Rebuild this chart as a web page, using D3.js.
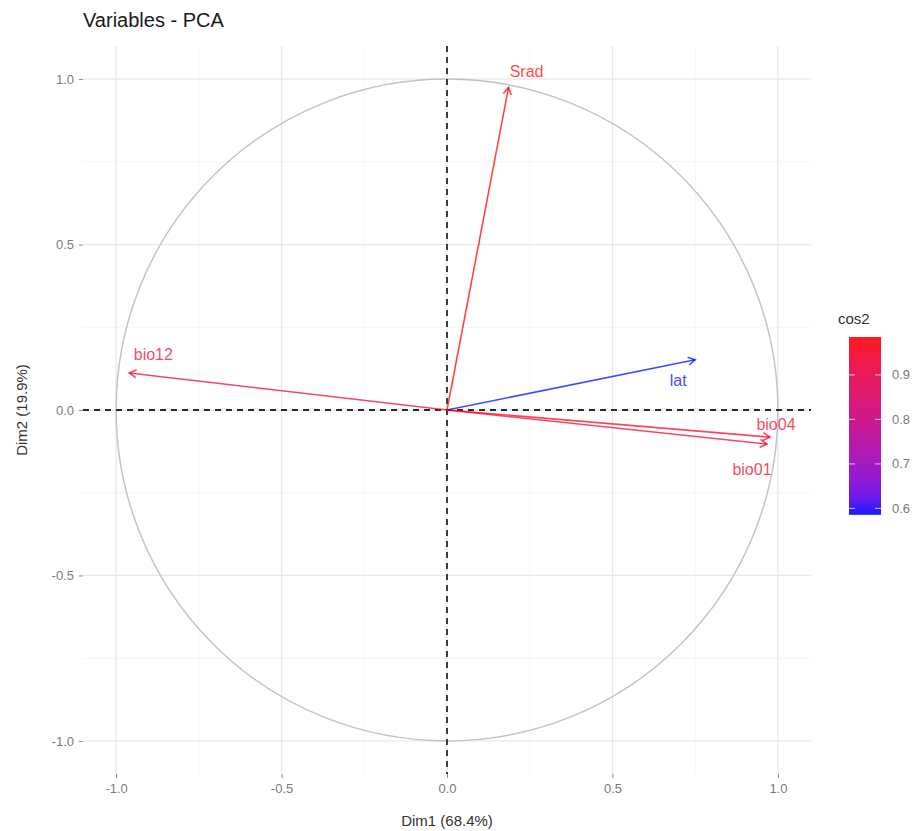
<!DOCTYPE html>
<html>
<head>
<meta charset="utf-8">
<script src="https://cdn.jsdelivr.net/npm/d3@7"></script>
<style>
  body { margin: 0; background: #fff; }
  svg { font-family: "Liberation Sans", Arial, sans-serif; }
</style>
</head>
<body>
<div id="chart"></div>
<script>
// variables and their coordinates on Dim1 / Dim2
var varNames = ["Srad", "lat", "bio12", "bio04", "bio01"];
var dim1 = [0.186, 0.750, -0.960, 0.976, 0.967];
var dim2 = [0.975, 0.152, 0.112, -0.082, -0.103];

var majorTicks = [-1.0, -0.5, 0.0, 0.5, 1.0];
var minorTicks = [-0.75, -0.25, 0.25, 0.75];
var legendTicks = [0.6, 0.7, 0.8, 0.9];

var width = 921, height = 831;
var panel = { left: 83, right: 811, top: 46, bottom: 774 };

var svg = d3.select("#chart").append("svg")
    .attr("width", width)
    .attr("height", height);

var x = d3.scaleLinear().domain([-1.1, 1.1]).range([panel.left, panel.right]);
var y = d3.scaleLinear().domain([-1.1, 1.1]).range([panel.bottom, panel.top]);

var data = varNames.map(function (n, i) {
    return { name: n, x: dim1[i], y: dim2[i], cos2: dim1[i] * dim1[i] + dim2[i] * dim2[i] };
});

var color = d3.scaleLinear()
    .domain(d3.extent(data, function (d) { return d.cos2; }))
    .range(["blue", "red"])
    .interpolate(d3.interpolateLab);

// grid
var grid = svg.append("g");
grid.selectAll(".vminor").data(minorTicks).enter().append("line")
    .attr("x1", function (d) { return x(d); }).attr("x2", function (d) { return x(d); })
    .attr("y1", panel.top).attr("y2", panel.bottom)
    .attr("stroke", "#f2f2f2").attr("stroke-width", 0.8);
grid.selectAll(".hminor").data(minorTicks).enter().append("line")
    .attr("y1", function (d) { return y(d); }).attr("y2", function (d) { return y(d); })
    .attr("x1", panel.left).attr("x2", panel.right)
    .attr("stroke", "#f2f2f2").attr("stroke-width", 0.8);
grid.selectAll(".vmajor").data(majorTicks).enter().append("line")
    .attr("x1", function (d) { return x(d); }).attr("x2", function (d) { return x(d); })
    .attr("y1", panel.top).attr("y2", panel.bottom)
    .attr("stroke", "#e8e8e8").attr("stroke-width", 1.3);
grid.selectAll(".hmajor").data(majorTicks).enter().append("line")
    .attr("y1", function (d) { return y(d); }).attr("y2", function (d) { return y(d); })
    .attr("x1", panel.left).attr("x2", panel.right)
    .attr("stroke", "#e8e8e8").attr("stroke-width", 1.3);

// axes
var fmt = function (d) { return d3.format(".1f")(d).replace("\u2212", "-"); };
var xAxis = d3.axisBottom(x).tickValues(majorTicks).tickFormat(fmt).tickSize(4).tickPadding(6);
var yAxis = d3.axisLeft(y).tickValues(majorTicks).tickFormat(fmt).tickSize(4).tickPadding(5);

var gx = svg.append("g").attr("transform", "translate(0," + panel.bottom + ")").call(xAxis);
var gy = svg.append("g").attr("transform", "translate(" + panel.left + ",0)").call(yAxis);
[gx, gy].forEach(function (g) {
    g.select(".domain").remove();
    g.selectAll(".tick line").attr("stroke", "#8a8a8a");
    g.selectAll(".tick text").attr("fill", "#7a7a7a").style("font-size", "13px")
        .style("font-family", "'Liberation Sans', Arial, sans-serif");
});

// correlation circle
svg.append("circle")
    .attr("cx", x(0)).attr("cy", y(0))
    .attr("r", x(1) - x(0))
    .attr("fill", "none")
    .attr("stroke", "#c4c4c4")
    .attr("stroke-width", 1.5);

// dashed reference lines
svg.append("line")
    .attr("x1", panel.left).attr("x2", panel.right)
    .attr("y1", y(0)).attr("y2", y(0))
    .attr("stroke", "#2a2a2a").attr("stroke-width", 1.8).attr("stroke-dasharray", "6,5");
svg.append("line")
    .attr("y1", panel.top).attr("y2", panel.bottom)
    .attr("x1", x(0)).attr("x2", x(0))
    .attr("stroke", "#2a2a2a").attr("stroke-width", 1.8).attr("stroke-dasharray", "6,5");

// arrows
var headLen = 8, headAng = Math.PI / 6;
var arrows = svg.append("g");
data.forEach(function (d) {
    var x0 = x(0), y0 = y(0), x1 = x(d.x), y1 = y(d.y);
    var a = Math.atan2(y1 - y0, x1 - x0);
    var c = color(d.cos2);
    arrows.append("line")
        .attr("x1", x0).attr("y1", y0).attr("x2", x1).attr("y2", y1)
        .attr("stroke", c).attr("stroke-width", 1.6).attr("opacity", 0.72);
    arrows.append("path")
        .attr("d", "M" + (x1 - headLen * Math.cos(a - headAng)) + "," + (y1 - headLen * Math.sin(a - headAng)) +
            "L" + x1 + "," + y1 +
            "L" + (x1 - headLen * Math.cos(a + headAng)) + "," + (y1 - headLen * Math.sin(a + headAng)))
        .attr("fill", "none").attr("stroke", c).attr("stroke-width", 1.6).attr("opacity", 0.72);
});

// labels, nudged like the repelled text
var nudge = {
    Srad: [18, -16], lat: [-17, 21], bio12: [24, -18],
    bio04: [6, -13], bio01: [-15, 25]
};
svg.append("g").selectAll("text").data(data).enter().append("text")
    .attr("x", function (d) { return x(d.x) + nudge[d.name][0]; })
    .attr("y", function (d) { return y(d.y) + nudge[d.name][1]; })
    .attr("text-anchor", "middle")
    .attr("dominant-baseline", "central")
    .attr("fill", function (d) { return color(d.cos2); })
    .attr("opacity", 0.72)
    .style("font-size", "16px")
    .text(function (d) { return d.name; });

// titles
svg.append("text")
    .attr("x", panel.left).attr("y", 27)
    .attr("fill", "#1a1a1a").style("font-size", "20px")
    .text("Variables - PCA");
svg.append("text")
    .attr("x", x(0)).attr("y", 826)
    .attr("text-anchor", "middle")
    .attr("fill", "#333").style("font-size", "15px")
    .text("Dim1 (68.4%)");
svg.append("text")
    .attr("transform", "translate(27," + y(0) + ") rotate(-90)")
    .attr("text-anchor", "middle")
    .attr("fill", "#333").style("font-size", "15px")
    .text("Dim2 (19.9%)");

// colour legend
var legX = 849, legW = 32, legTop = 337;
var ext = color.domain();
var legScale = d3.scaleLinear().domain([ext[1], ext[0]]).range([legTop, legTop + (ext[1] - ext[0]) * 445]);

var defs = svg.append("defs");
var grad = defs.append("linearGradient").attr("id", "cosgrad")
    .attr("x1", 0).attr("y1", 1).attr("x2", 0).attr("y2", 0);
d3.range(0, 1.0001, 0.1).forEach(function (t) {
    grad.append("stop").attr("offset", t)
        .attr("stop-color", color(ext[0] + t * (ext[1] - ext[0])));
});

svg.append("text")
    .attr("x", 838).attr("y", 324)
    .attr("fill", "#333").style("font-size", "15px")
    .text("cos2");
svg.append("rect")
    .attr("x", legX).attr("y", legScale(ext[1]))
    .attr("width", legW).attr("height", legScale(ext[0]) - legScale(ext[1]))
    .attr("fill", "url(#cosgrad)")
    .attr("opacity", 0.9);

var legTicks = svg.append("g").selectAll("g").data(legendTicks).enter().append("g");
legTicks.append("line")
    .attr("x1", legX).attr("x2", legX + 6)
    .attr("y1", function (d) { return legScale(d); }).attr("y2", function (d) { return legScale(d); })
    .attr("stroke", "#fff").attr("stroke-width", 1.2).attr("opacity", 0.6);
legTicks.append("line")
    .attr("x1", legX + legW - 6).attr("x2", legX + legW)
    .attr("y1", function (d) { return legScale(d); }).attr("y2", function (d) { return legScale(d); })
    .attr("stroke", "#fff").attr("stroke-width", 1.2).attr("opacity", 0.6);
legTicks.append("text")
    .attr("x", legX + legW + 11)
    .attr("y", function (d) { return legScale(d); })
    .attr("dominant-baseline", "central")
    .attr("fill", "#7a7a7a").style("font-size", "13px")
    .text(function (d) { return d.toFixed(1); });
</script>
</body>
</html>
